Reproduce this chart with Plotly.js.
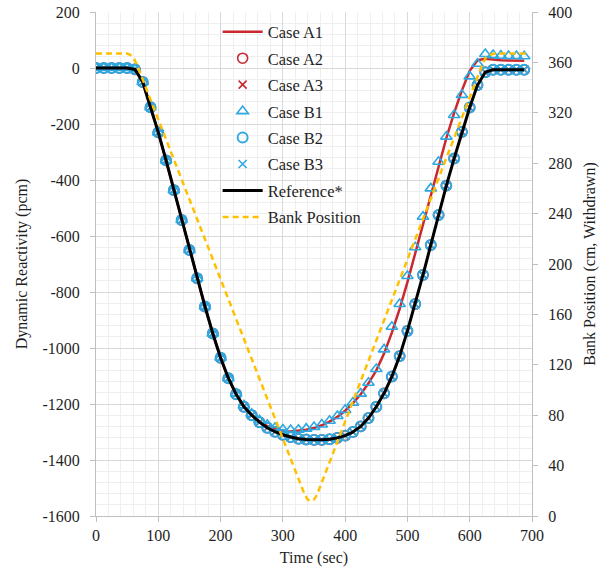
<!DOCTYPE html>
<html><head><meta charset="utf-8">
<script src="https://cdn.plot.ly/plotly-3.0.1.min.js"></script>
<style>html,body{margin:0;padding:0;background:#fff;}</style>
</head><body>
<div id="chart" style="width:605px;height:569px;"></div>
<script>
// Time points (sec)
const time = [0,12.5,25,37.5,50,62.5,75,87.5,100,112.5,125,137.5,150,162.5,175,187.5,200,212.5,225,237.5,250,262.5,275,287.5,300,312.5,325,337.5,350,362.5,375,387.5,400,412.5,425,437.5,450,462.5,475,487.5,500,512.5,525,537.5,550,562.5,575,587.5,600,612.5,625,637.5,650,662.5,675,687.5];

// Reference* dynamic reactivity (pcm)
const reference = [0,0,0,0,0,-5,-50,-140,-230,-330,-436,-543,-650,-751,-852,-948,-1035,-1108,-1165,-1210,-1240,-1265,-1285,-1299,-1310,-1318,-1324,-1327,-1328,-1328,-1326,-1321,-1313,-1300,-1280,-1250,-1210,-1162,-1102,-1029,-939,-843,-739,-632,-525,-420,-323,-228,-141,-61,-15,-6,-6,-6,-6,-6];

// Case A1 (line)
const caseA1 = [0,0,0,0,0,-5,-50,-140,-230,-330,-436,-543,-650,-751,-852,-948,-1035,-1108,-1164,-1207,-1238,-1262,-1279,-1290,-1297,-1298,-1296,-1292,-1286,-1276,-1263,-1246,-1224,-1197,-1165,-1126,-1080,-1020,-945,-860,-765,-662,-555,-450,-347,-250,-160,-80,-10,28,33,30,28,27,26,26];

// Cases A2, A3, B2, B3 coincide with the reference
const caseA2 = [0,0,0,0,0,-5,-50,-140,-230,-330,-436,-543,-650,-751,-852,-948,-1035,-1108,-1165,-1210,-1240,-1265,-1285,-1299,-1310,-1318,-1324,-1327,-1328,-1328,-1326,-1321,-1313,-1300,-1280,-1250,-1210,-1162,-1102,-1029,-939,-843,-739,-632,-525,-420,-323,-228,-141,-61,-15,-6,-6,-6,-6,-6];
const caseA3 = [0,0,0,0,0,-5,-50,-140,-230,-330,-436,-543,-650,-751,-852,-948,-1035,-1108,-1165,-1210,-1240,-1265,-1285,-1299,-1310,-1318,-1324,-1327,-1328,-1328,-1326,-1321,-1313,-1300,-1280,-1250,-1210,-1162,-1102,-1029,-939,-843,-739,-632,-525,-420,-323,-228,-141,-61,-15,-6,-6,-6,-6,-6];
const caseB2 = [0,0,0,0,0,-5,-50,-140,-230,-330,-436,-543,-650,-751,-852,-948,-1035,-1108,-1165,-1210,-1240,-1265,-1285,-1299,-1310,-1318,-1324,-1327,-1328,-1328,-1326,-1321,-1313,-1300,-1280,-1250,-1210,-1162,-1102,-1029,-939,-843,-739,-632,-525,-420,-323,-228,-141,-61,-15,-6,-6,-6,-6,-6];
const caseB3 = [0,0,0,0,0,-5,-50,-140,-230,-330,-436,-543,-650,-751,-852,-948,-1035,-1108,-1165,-1210,-1240,-1265,-1285,-1299,-1310,-1318,-1324,-1327,-1328,-1328,-1326,-1321,-1313,-1300,-1280,-1250,-1210,-1162,-1102,-1029,-939,-843,-739,-632,-525,-420,-323,-228,-141,-61,-15,-6,-6,-6,-6,-6];

// Case B1 (triangles)
const caseB1 = [0,0,0,0,0,-5,-50,-140,-230,-330,-436,-543,-650,-751,-852,-948,-1035,-1108,-1163,-1205,-1235,-1258,-1274,-1285,-1291,-1293,-1292,-1288,-1282,-1273,-1260,-1243,-1221,-1195,-1163,-1124,-1075,-1005,-924,-843,-743,-640,-531,-430,-335,-245,-168,-96,-30,15,50,46,44,43,43,42];

// Bank position (cm, withdrawn)
const bankTime = [0,50,55,60,65,335,340,345,350,355,620,626,632,640,692];
const bankPos  = [367,367,366,364,359,17,13,12,13,17,358,364,366,367,367];

// Tick labels
const leftTickVals = [-1600,-1400,-1200,-1000,-800,-600,-400,-200,0,200];
const leftTickText = ['-1600','-1400','-1200','-1000','-800','-600','-400','-200','0','200'];

const legendNames = ['Case A1','Case A2','Case A3','Case B1','Case B2','Case B3','Reference*','Bank Position'];

const RED = '#c8282e', BLUE = '#2ea8e0';
const serif = 'Liberation Serif, Times New Roman, serif';
const TXT = '#1f1f1f';

const traces = [
  {x: time, y: caseA1, name: legendNames[0], mode: 'lines', line: {color: RED, width: 2.5}, legendgroup:'g1'},
  {x: time, y: caseA2, name: legendNames[1], mode: 'markers', marker: {symbol: 'circle-open', size: 10, color: RED, line: {width: 1.6, color: RED}}, legendgroup:'g2'},
  {x: time, y: caseA3, name: legendNames[2], mode: 'markers', marker: {symbol: 'x-thin-open', size: 8, color: RED, line: {width: 1.6, color: RED}}, legendgroup:'g3'},
  {x: time, y: caseB1, name: legendNames[3], mode: 'markers', marker: {symbol: 'triangle-up-open', size: 10, color: BLUE, line: {width: 1.6, color: BLUE}}, legendgroup:'g4'},
  {x: time, y: caseB2, name: legendNames[4], mode: 'markers', marker: {symbol: 'circle-open', size: 10, color: BLUE, line: {width: 1.9, color: BLUE}}, legendgroup:'g5'},
  {x: time, y: caseB3, name: legendNames[5], mode: 'markers', marker: {symbol: 'x-thin-open', size: 8, color: BLUE, line: {width: 1.6, color: BLUE}}, legendgroup:'g6'},
  {x: time, y: reference, name: legendNames[6], mode: 'lines', line: {color: '#000000', width: 3}, legendgroup:'g7'},
  {x: bankTime, y: bankPos, name: legendNames[7], mode: 'lines', yaxis: 'y2', line: {color: '#ffc000', width: 2.5, dash: '6px,4px'}, legendgroup:'g8'}
];

const axisCommon = {
  showline: true, linecolor: '#bfbfbf', linewidth: 1,
  ticks: 'outside', ticklen: 5, tickcolor: '#bfbfbf',
  tickfont: {family: serif, size: 16, color: TXT},
  zeroline: false
};

const layout = {
  width: 605, height: 569,
  margin: {l: 96, r: 73, t: 12, b: 53},
  paper_bgcolor: '#ffffff', plot_bgcolor: '#ffffff',
  font: {family: serif, color: TXT},
  showlegend: true,
  legend: {
    x: 0.279, y: 0.995, xanchor: 'left', yanchor: 'top',
    bgcolor: 'rgba(0,0,0,0)', font: {family: serif, size: 16.5, color: TXT},
    itemwidth: 40, traceorder: 'grouped', tracegroupgap: 2
  },
  xaxis: Object.assign({}, axisCommon, {
    range: [0, 700], tick0: 0, dtick: 100,
    showgrid: true, gridcolor: '#d9d9d9', gridwidth: 1,
    minor: {dtick: 20, showgrid: true, gridcolor: '#efefef', ticks: ''},
    title: {text: 'Time (sec)', font: {family: serif, size: 16, color: TXT}, standoff: 8}
  }),
  yaxis: Object.assign({}, axisCommon, {
    range: [-1600, 200], tickmode: 'array', tickvals: leftTickVals, ticktext: leftTickText,
    ticklabelstandoff: 7,
    showgrid: true, gridcolor: '#d9d9d9', gridwidth: 1,
    minor: {dtick: 40, tick0: 0, showgrid: true, gridcolor: '#efefef', ticks: ''},
    title: {text: 'Dynamic Reactivity (pcm)', font: {family: serif, size: 16, color: TXT}, standoff: 10}
  }),
  yaxis2: Object.assign({}, axisCommon, {
    overlaying: 'y', side: 'right',
    range: [0, 400], tick0: 0, dtick: 40, showgrid: false,
    ticklabelstandoff: 7,
    title: {text: 'Bank Position (cm, Withdrawn)', font: {family: serif, size: 16, color: TXT}, standoff: 12}
  })
};

Plotly.newPlot('chart', traces, layout, {displayModeBar: false, staticPlot: true});
</script>
</body></html>
